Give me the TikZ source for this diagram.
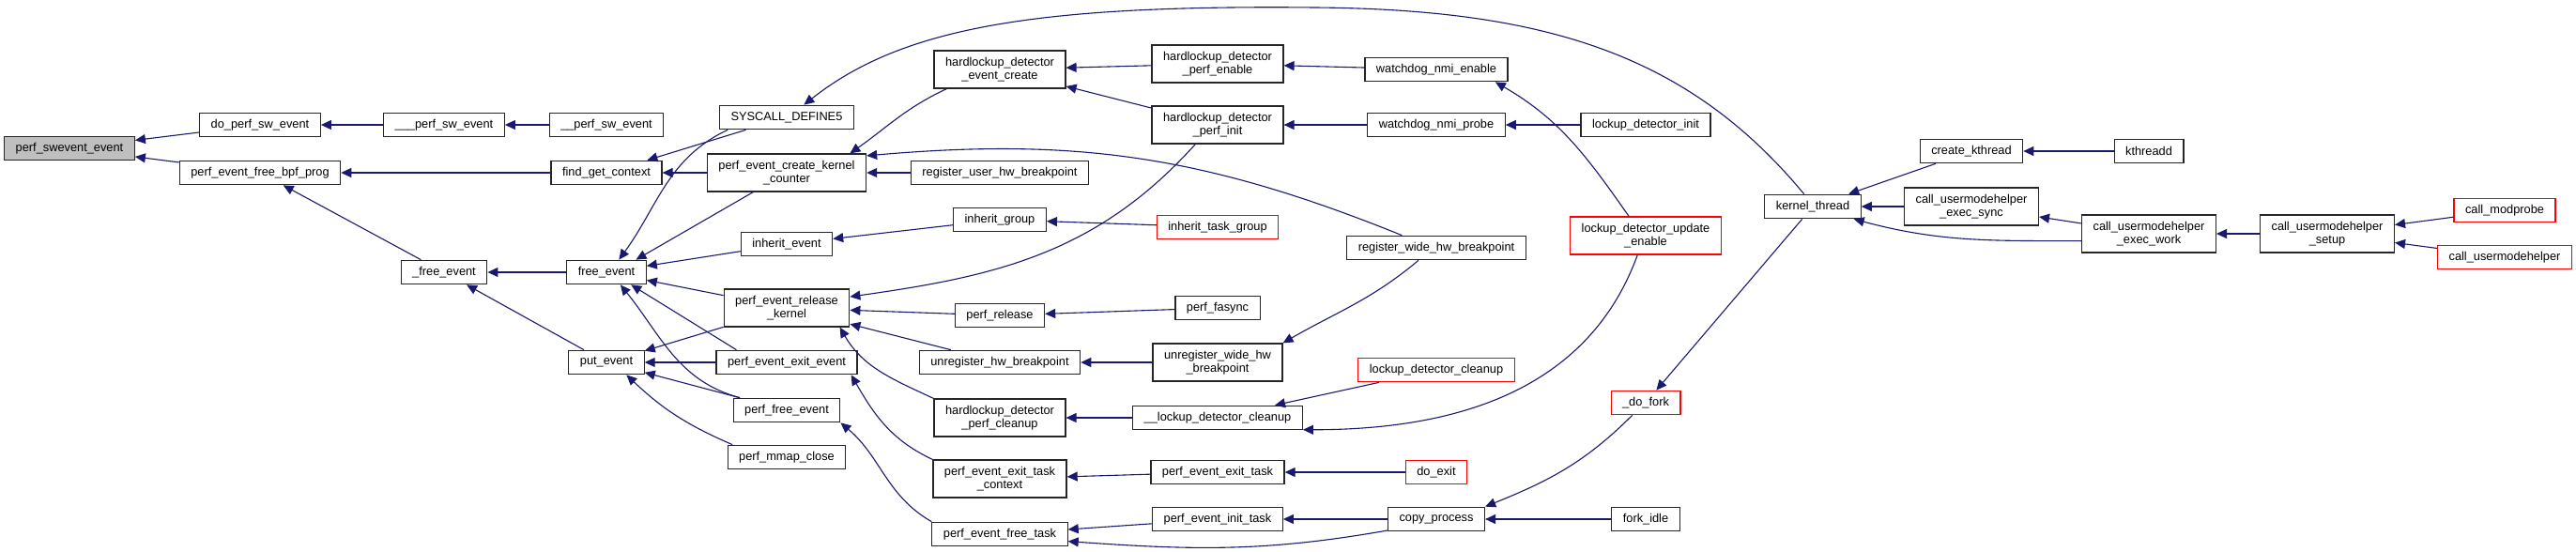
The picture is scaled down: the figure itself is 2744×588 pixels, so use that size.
\documentclass[tikz,border=0pt]{standalone}
\usepackage{fontspec}
\setmainfont{Liberation Sans}
\usetikzlibrary{arrows.meta}
\definecolor{edgeblue}{HTML}{191970}
\definecolor{rootgray}{HTML}{BFBFBF}

\begin{document}
\begin{tikzpicture}[
    x=1pt, y=1pt,
    fn/.style={draw=black!85, fill=white, line width=1.2pt, inner xsep=12pt, inner ysep=3pt,
        minimum height=25.5pt, align=center, font=\fontsize{12.8}{14.5}\selectfont},
    fn2/.style={fn, minimum height=40pt},
    redfn/.style={fn, draw=red},
    redfn2/.style={fn2, draw=red},
    root/.style={fn, fill=rootgray},
    arr/.style={-{Triangle[length=11pt,width=10pt]}, line width=1.1pt, edgeblue}
]
    \useasboundingbox (0,0) rectangle (2744,-588);

    \node[root] (swevent) at (74,-158) {perf\_swevent\_event};
    \node[fn] (doperfsw) at (277,-133) {do\_perf\_sw\_event};
    \node[fn] (freebpf) at (277,-184) {perf\_event\_free\_bpf\_prog};
    \node[fn] (perfsw3) at (473,-133) {\_\_\_perf\_sw\_event};
    \node[fn] (freeevint) at (473,-290) {\_free\_event};
    \node[fn] (perfsw2) at (646,-133) {\_\_perf\_sw\_event};
    \node[fn] (findctx) at (646,-184) {find\_get\_context};
    \node[fn] (freeev) at (646,-290) {free\_event};
    \node[fn] (putev) at (646,-386) {put\_event};
    \node[fn] (syscall) at (838,-125) {SYSCALL\_DEFINE5};
    \node[fn2] (createkc) at (838,-184) {perf\_event\_create\_kernel\\\_counter};
    \node[fn] (inheritev) at (838,-260) {inherit\_event};
    \node[fn2] (releasek) at (838,-328) {perf\_event\_release\\\_kernel};
    \node[fn] (exitev) at (838,-386) {perf\_event\_exit\_event};
    \node[fn] (perffree) at (838,-437) {perf\_free\_event};
    \node[fn] (mmapclose) at (838,-487) {perf\_mmap\_close};
    \node[fn2] (hdcreate) at (1065,-74) {hardlockup\_detector\\\_event\_create};
    \node[fn] (reguser) at (1065,-184) {register\_user\_hw\_breakpoint};
    \node[fn] (inheritgr) at (1065,-234) {inherit\_group};
    \node[fn] (perfrel) at (1065,-336) {perf\_release};
    \node[fn] (unreghw) at (1065,-386) {unregister\_hw\_breakpoint};
    \node[fn2] (hdcleanup) at (1065,-445) {hardlockup\_detector\\\_perf\_cleanup};
    \node[fn2] (exittaskctx) at (1065,-510) {perf\_event\_exit\_task\\\_context};
    \node[fn] (freetask) at (1065,-569) {perf\_event\_free\_task};
    \node[fn2] (hdenable) at (1297,-68) {hardlockup\_detector\\\_perf\_enable};
    \node[fn2] (hdinit) at (1297,-133) {hardlockup\_detector\\\_perf\_init};
    \node[redfn] (inherittg) at (1297,-242) {inherit\_task\_group};
    \node[fn] (fasync) at (1297,-328) {perf\_fasync};
    \node[fn2] (unregwide) at (1297,-386) {unregister\_wide\_hw\\\_breakpoint};
    \node[fn] (lockcleanup2) at (1297,-445) {\_\_lockup\_detector\_cleanup};
    \node[fn] (exittask) at (1297,-503) {perf\_event\_exit\_task};
    \node[fn] (inittask) at (1297,-553) {perf\_event\_init\_task};
    \node[fn] (nmienable) at (1530,-74) {watchdog\_nmi\_enable};
    \node[fn] (nmiprobe) at (1530,-133) {watchdog\_nmi\_probe};
    \node[fn] (regwide) at (1530,-264) {register\_wide\_hw\_breakpoint};
    \node[redfn] (lockcleanup) at (1530,-394) {lockup\_detector\_cleanup};
    \node[redfn] (doexit) at (1530,-503) {do\_exit};
    \node[fn] (copyproc) at (1530,-553) {copy\_process};
    \node[fn] (lockinit) at (1753,-133) {lockup\_detector\_init};
    \node[redfn2] (updenable) at (1753,-251) {lockup\_detector\_update\\\_enable};
    \node[redfn] (dofork) at (1753,-429) {\_do\_fork};
    \node[fn] (forkidle) at (1753,-553) {fork\_idle};
    \node[fn] (kthread) at (1931,-220) {kernel\_thread};
    \node[fn] (createkt) at (2100,-161) {create\_kthread};
    \node[fn2] (execsync) at (2100,-220) {call\_usermodehelper\\\_exec\_sync};
    \node[fn] (kthreadd) at (2289,-161) {kthreadd};
    \node[fn2] (execwork) at (2289,-249) {call\_usermodehelper\\\_exec\_work};
    \node[fn2] (umhsetup) at (2479,-249) {call\_usermodehelper\\\_setup};
    \node[redfn] (modprobe) at (2668,-224) {call\_modprobe};
    \node[redfn] (umh) at (2668,-274) {call\_usermodehelper};

    \draw[arr] (doperfsw) -- (swevent);
    \draw[arr] (freebpf) -- (swevent);
    \draw[arr] (perfsw3) -- (doperfsw);
    \draw[arr] (perfsw2) -- (perfsw3);
    \draw[arr] (findctx) -- (freebpf);
    \draw[arr] (freeevint) -- (freebpf);
    \draw[arr] (freeev) -- (freeevint);
    \draw[arr] (putev) -- (freeevint);
    \draw[arr] (syscall) -- (findctx);
    \draw[arr] (createkc) -- (findctx);
    \draw[arr] (syscall.192) to[out=205,in=54] (freeev.45);
    \draw[arr] (createkc) -- (freeev.23);
    \draw[arr] (inheritev) -- (freeev);
    \draw[arr] (releasek) -- (freeev);
    \draw[arr] (exitev.166) -- (freeev.333);
    \draw[arr] (perffree.165) to[out=165,in=309] (freeev.318);
    \draw[arr] (releasek) -- (putev);
    \draw[arr] (exitev) -- (putev);
    \draw[arr] (perffree) -- (putev);
    \draw[arr] (mmapclose.167) to[bend left=10] (putev.328);

    \draw[arr] (hdcreate.200) to[out=205,in=35] (createkc.17);
    \draw[arr] (reguser) -- (createkc);
    \draw[arr] (regwide.160) to[out=158,in=5] (createkc.12);
    \draw[arr] (inheritgr) -- (inheritev);
    \draw[arr] (hdinit.221) to[out=228,in=8] (releasek.10);
    \draw[arr] (perfrel) -- (releasek);
    \draw[arr] (unreghw) -- (releasek);
    \draw[arr] (hdcleanup.north west) to[out=155,in=300] (releasek.340);
    \draw[arr] (exittaskctx.north west) to[out=155,in=300] (exitev.349);
    \draw[arr] (freetask.north west) to[out=150,in=320] (perffree.south east);

    \draw[arr] (hdenable) -- (hdcreate);
    \draw[arr] (hdinit) -- (hdcreate);
    \draw[arr] (inherittg) -- (inheritgr);
    \draw[arr] (fasync) -- (perfrel);
    \draw[arr] (unregwide) -- (unreghw);
    \draw[arr] (lockcleanup2) -- (hdcleanup);
    \draw[arr] (exittask) -- (exittaskctx);
    \draw[arr] (inittask) -- (freetask);
    \draw[arr] (copyproc.193) to[out=190,in=-4] (freetask.354);

    \draw[arr] (nmienable) -- (hdenable);
    \draw[arr] (nmiprobe) -- (hdinit);
    \draw[arr] (regwide.215) to[out=220,in=30] (unregwide.north east);
    \draw[arr] (lockcleanup) -- (lockcleanup2);
    \draw[arr] (updenable.247) to[out=250,in=0] (lockcleanup2.352);
    \draw[arr] (doexit) -- (exittask);
    \draw[arr] (copyproc) -- (inittask);

    \draw[arr] (lockinit) -- (nmiprobe);
    \draw[arr] (updenable.131) to[out=125,in=330] (nmienable.348);
    \draw[arr] (dofork.223) to[out=225,in=22] (copyproc.north east);
    \draw[arr] (forkidle) -- (copyproc);

    \draw[arr] (kthread) -- (dofork);
    \draw[arr] (kthread.125) .. controls (1800,-60) and (1650,-10) .. (1400,-8)
        .. controls (1100,-5) and (960,-30) .. (syscall.36);
    \draw[arr] (createkt) -- (kthread);
    \draw[arr] (execsync) -- (kthread);
    \draw[arr] (execwork.186) to[out=180,in=345] (kthread.343);
    \draw[arr] (kthreadd) -- (createkt);
    \draw[arr] (execwork) -- (execsync);
    \draw[arr] (umhsetup) -- (execwork);
    \draw[arr] (modprobe) -- (umhsetup);
    \draw[arr] (umh) -- (umhsetup);
\end{tikzpicture}
\end{document}
